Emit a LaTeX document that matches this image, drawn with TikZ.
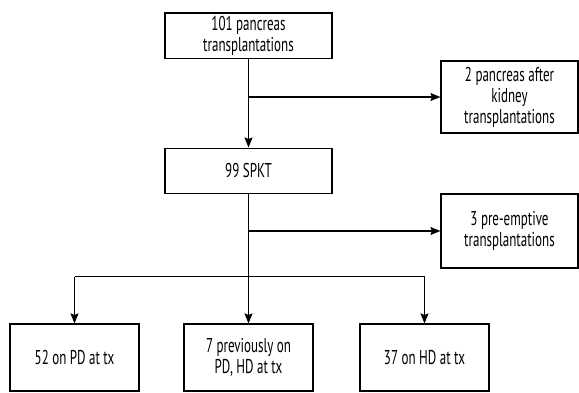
\documentclass[tikz,border=0pt]{standalone}
\usepackage{fontspec}
\setmainfont[FakeStretch=0.65]{PT Sans}
\usetikzlibrary{arrows.meta}
\tikzset{
  x=1pt,y=-1pt,
  box/.style={draw=black, line width=1.2pt, align=center, inner sep=0pt,
    font=\fontsize{20}{21}\selectfont, text=black},
  conn/.style={draw=black, line width=1.2pt},
  arr/.style={conn, -{Stealth[length=10pt,width=8pt,inset=1.5pt]}}
}
\begin{document}
\begin{tikzpicture}
\useasboundingbox (0,0) rectangle (579,392);
\node[box, minimum width=167pt, minimum height=45.5pt] (top) at (248.5,35.8) {101 pancreas\\transplantations};
\node[box, minimum width=137pt, minimum height=72pt] (r1) at (509.5,97) {2 pancreas after\\kidney\\transplantations};
\node[box, minimum width=167pt, minimum height=45pt] (spkt) at (248.5,170.6) {99 SPKT};
\node[box, minimum width=137pt, minimum height=74pt] (r2) at (509.5,231) {3 pre-emptive\\transplantations};
\node[box, minimum width=129pt, minimum height=67pt] (pd) at (74.5,357.5) {52 on PD at tx};
\node[box, minimum width=129pt, minimum height=67pt] (prev) at (248.5,357.5) {7 previously on\\PD, HD at tx};
\node[box, minimum width=129pt, minimum height=67pt] (hd) at (424.5,357.5) {37 on HD at tx};
\coordinate (b1) at (248.5,97);
\coordinate (b2) at (248.5,231);
\coordinate (hl) at (74.5,276.5);
\coordinate (hr) at (424.5,276.5);
\draw[arr] (top.south) -- (spkt.north);
\draw[arr] (b1) -- (r1.west);
\draw[arr] (spkt.south) -- (prev.north);
\draw[arr] (b2) -- (r2.west);
\draw[conn] (hl) -- (hr);
\draw[arr] (hl) -- (pd.north);
\draw[arr] (hr) -- (hd.north);
\end{tikzpicture}
\end{document}
